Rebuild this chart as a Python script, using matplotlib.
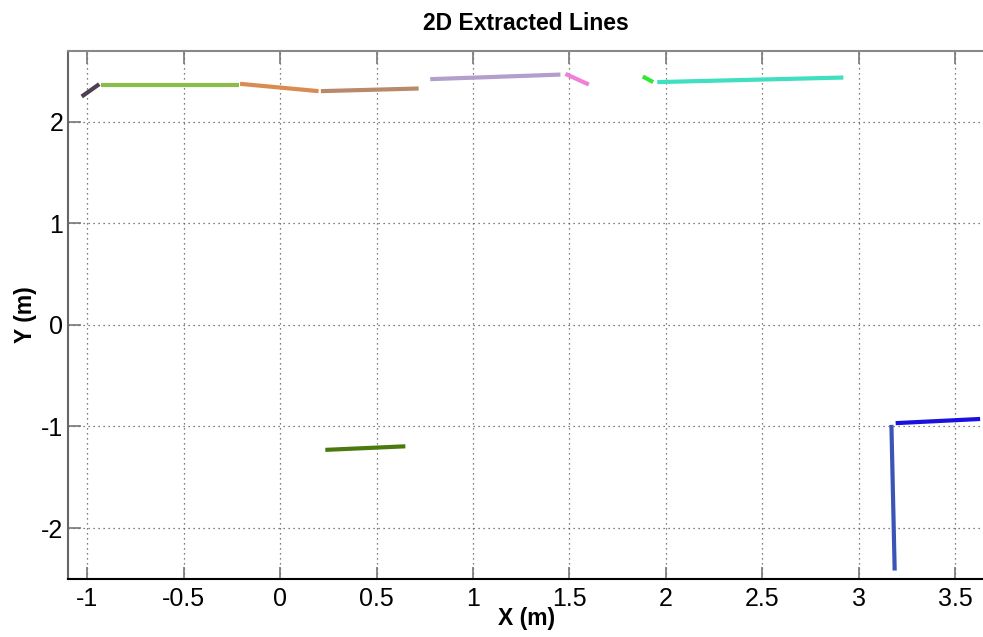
import matplotlib
matplotlib.use("Agg")
from matplotlib import pyplot as plt

plt.rcParams['font.family'] = ['Liberation Sans', 'DejaVu Sans']

# extracted wall segments: (x0, x1), (y0, y1)
seg_x = [
    (-1.029, -0.938),
    (-0.930, -0.216),
    (-0.208, 0.199),
    (0.211, 0.718),
    (0.778, 1.453),
    (1.479, 1.600),
    (1.880, 1.934),
    (1.955, 2.920),
    (0.234, 0.649),
    (3.169, 3.186),
    (3.191, 3.629),
]
seg_y = [
    (2.246, 2.368),
    (2.364, 2.364),
    (2.371, 2.299),
    (2.299, 2.325),
    (2.417, 2.462),
    (2.469, 2.364),
    (2.443, 2.388),
    (2.388, 2.433),
    (-1.230, -1.195),
    (-0.984, -2.417),
    (-0.967, -0.926),
]
seg_colors = [
    "#4f3f55", "#8bbd4b", "#d98c52", "#b88a6a", "#b39fcc", "#f07fd8",
    "#33e833", "#40dfbf", "#4a7a0e", "#3a55b5", "#1a10e0",
]

x_ticks = [-1, -0.5, 0, 0.5, 1, 1.5, 2, 2.5, 3, 3.5]
x_tick_labels = ["-1", "-0.5", "0", "0.5", "1", "1.5", "2", "2.5", "3", "3.5"]
y_ticks = [-2, -1, 0, 1, 2]
y_tick_labels = ["-2", "-1", "0", "1", "2"]

fig = plt.figure(figsize=(9.83, 6.37), dpi=100)
ax = fig.add_axes([0.0692, 0.0911, 0.932, 0.829])

for xs, ys, c in zip(seg_x, seg_y, seg_colors):
    ax.plot(xs, ys, color=c, linewidth=3, solid_capstyle="butt")

ax.set_xlim(-1.10, 3.65)
ax.set_ylim(-2.5, 2.695)
ax.set_xticks(x_ticks)
ax.set_xticklabels(x_tick_labels)
ax.set_yticks(y_ticks)
ax.set_yticklabels(y_tick_labels)

ax.grid(True, color="#555555", linestyle=(0, (1, 3)), linewidth=0.9)
ax.tick_params(direction="in", length=9, width=1.2, labelsize=18,
               top=True, right=False, colors="#777777", labelcolor="black")
ax.tick_params(axis="x", pad=6)
ax.spines["right"].set_visible(False)
ax.spines["top"].set_color("#888888")
ax.spines["left"].set_color("#666666")
ax.spines["bottom"].set_color("black")
for s in ax.spines.values():
    s.set_linewidth(1.5)

ax.set_title("2D Extracted Lines", fontsize=16.5, fontweight="bold", pad=15)
ax.set_xlabel("X (m)", fontsize=16.5, fontweight="bold", labelpad=-3)
ax.set_ylabel("Y (m)", fontsize=16.5, fontweight="bold", labelpad=3)

fig.savefig("out.png", dpi=100)
